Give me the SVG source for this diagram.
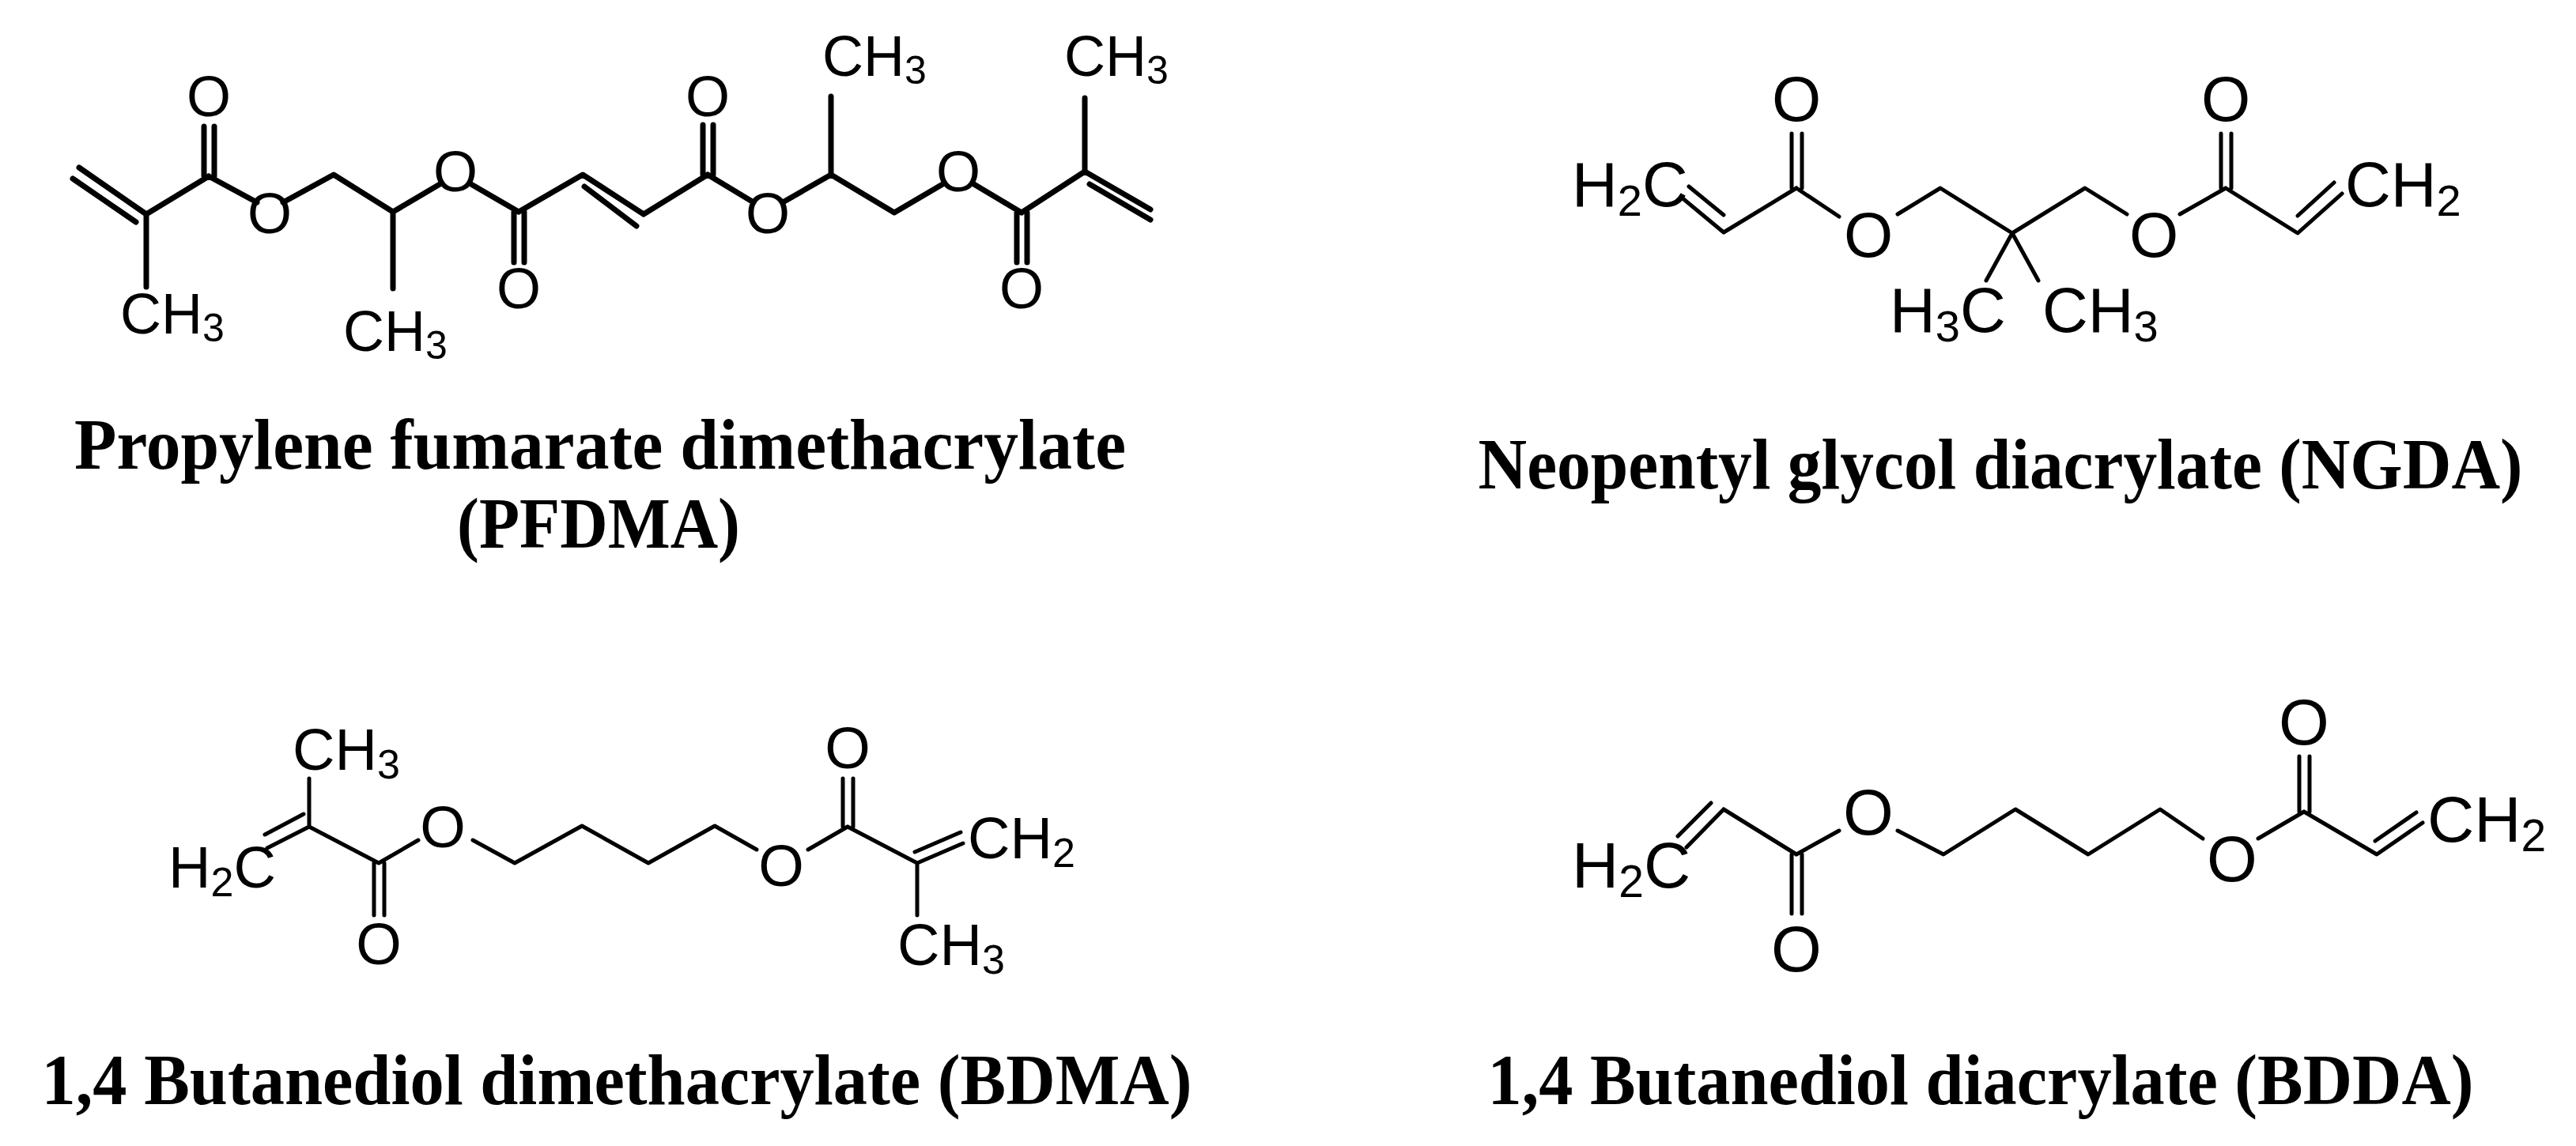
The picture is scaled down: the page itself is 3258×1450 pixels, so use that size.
<svg xmlns="http://www.w3.org/2000/svg" width="3258" height="1450" viewBox="0 0 3258 1450">
<style>
.b{stroke:#000;fill:none;stroke-linecap:round;stroke-linejoin:round}
.t1 .b{stroke-width:7}
.t2 .b{stroke-width:5}
.a{font-family:"Liberation Sans",Arial,sans-serif;fill:#000}
.o{text-anchor:middle;dominant-baseline:central}
.lab{font-family:"Liberation Serif","Times New Roman",serif;font-weight:bold;fill:#000;font-size:92px}
</style>
<rect width="3258" height="1450" fill="#fff"/>
<g id="pfdma" class="t1">
<g id="pfdma-bonds">
<path class="b" d="M100,212 L185,271 M92,226 L172,281 M185,271 L185,363 M185,271 L264,223 M258,223 L258,160 M271,223 L271,160 M264,223 L325,256 M358,256 L422,221 L497,268 L497,365 M497,268 L558,232 M594,232 L656,268 M650,268 L650,332 M663,268 L663,332 M656,268 L737,221 L814,271 M739,236 L805,286 M814,271 L895,221 M889,221 L889,158 M902,221 L902,158 M895,221 L953,256 M990,256 L1051,221 L1051,122 M1051,221 L1131,269 L1194,232 M1230,232 L1292,269 M1286,269 L1286,332 M1299,269 L1299,332 M1292,269 L1372,217 L1372,124 M1372,217 L1455,265 M1378,233 L1455,278"/>
</g>
<g class="a" font-size="72">
<text class="o" x="264" y="122">O</text>
<text class="o" x="341" y="270">O</text>
<text class="o" x="576" y="217">O</text>
<text class="o" x="656" y="365">O</text>
<text class="o" x="895" y="122">O</text>
<text class="o" x="971" y="270">O</text>
<text class="o" x="1212" y="217">O</text>
<text class="o" x="1292" y="365">O</text>
<text x="152" y="422">CH<tspan font-size="50" dy="10">3</tspan></text>
<text x="434" y="444">CH<tspan font-size="50" dy="10">3</tspan></text>
<text x="1040" y="96">CH<tspan font-size="50" dy="10">3</tspan></text>
<text x="1346" y="96">CH<tspan font-size="50" dy="10">3</tspan></text>
</g>
<text class="lab" x="759" y="593" text-anchor="middle" textLength="1330" lengthAdjust="spacingAndGlyphs">Propylene fumarate dimethacrylate</text>
<text class="lab" x="757" y="693" text-anchor="middle" textLength="358" lengthAdjust="spacingAndGlyphs">(PFDMA)</text>
</g>
<g id="ngda" class="t2">
<g id="ngda-bonds">
<path class="b" d="M2127,250 L2180,294 M2136,236 L2180,272 M2180,294 L2272,238 M2266,238 L2266,169 M2279,238 L2279,169 M2272,238 L2326,274 M2400,271 L2454,238 L2545,295 L2637,238 L2690,271 M2757,271 L2815,238 M2809,238 L2809,169 M2822,238 L2822,169 M2815,238 L2906,295 L2962,245 M2906,273 L2952,231 M2545,295 L2512,355 M2545,295 L2578,355"/>
</g>
<g class="a" font-size="80">
<text x="1988" y="261">H<tspan font-size="56" dy="12">2</tspan><tspan dy="-12">C</tspan></text>
<text class="o" x="2272" y="125">O</text>
<text class="o" x="2363" y="297">O</text>
<text class="o" x="2724" y="297">O</text>
<text class="o" x="2815" y="125">O</text>
<text x="2966" y="261">CH<tspan font-size="56" dy="12">2</tspan></text>
<text x="2390" y="420">H<tspan font-size="56" dy="12">3</tspan><tspan dy="-12">C</tspan></text>
<text x="2583" y="420">CH<tspan font-size="56" dy="12">3</tspan></text>
</g>
<text class="lab" x="2530" y="618" text-anchor="middle" textLength="1321" lengthAdjust="spacingAndGlyphs">Neopentyl glycol diacrylate (NGDA)</text>
</g>
<g id="bdma" class="t2">
<g id="bdma-bonds">
<path class="b" d="M391,985 L391,1046 L338,1073 M384,1030 L335,1056 M391,1046 L479,1092 M473,1092 L473,1158 M486,1092 L486,1158 M479,1092 L529,1063 M598,1063 L651,1092 L736,1045 L820,1092 L904,1045 L957,1075 M1022,1075 L1072,1046 M1066,1046 L1066,985 M1079,1046 L1079,985 M1072,1046 L1160,1092 L1218,1067 M1157,1078 L1215,1053 M1160,1092 L1160,1158"/>
</g>
<g class="a" font-size="74">
<text x="370" y="974">CH<tspan font-size="52" dy="11">3</tspan></text>
<text x="213" y="1123">H<tspan font-size="52" dy="11">2</tspan><tspan dy="-11">C</tspan></text>
<text class="o" x="479" y="1194">O</text>
<text class="o" x="560" y="1046">O</text>
<text class="o" x="988" y="1095">O</text>
<text class="o" x="1072" y="946">O</text>
<text x="1224" y="1086">CH<tspan font-size="52" dy="11">2</tspan></text>
<text x="1135" y="1221">CH<tspan font-size="52" dy="11">3</tspan></text>
</g>
<text class="lab" x="780" y="1397" text-anchor="middle" textLength="1455" lengthAdjust="spacingAndGlyphs">1,4 Butanediol dimethacrylate (BDMA)</text>
</g>
<g id="bdda" class="t2">
<g id="bdda-bonds">
<path class="b" d="M2133,1072 L2180,1024 M2122,1058 L2164,1016 M2180,1024 L2272,1081 M2266,1081 L2266,1156 M2279,1081 L2279,1156 M2272,1081 L2326,1051 M2400,1051 L2458,1081 L2549,1024 L2641,1081 L2732,1024 L2786,1061 M2856,1061 L2914,1027 M2908,1027 L2908,957 M2921,1027 L2921,957 M2914,1027 L3006,1081 L3064,1041 M3004,1064 L3056,1028"/>
</g>
<g class="a" font-size="82">
<text x="1988" y="1123">H<tspan font-size="57" dy="12">2</tspan><tspan dy="-12">C</tspan></text>
<text class="o" x="2272" y="1200">O</text>
<text class="o" x="2363" y="1027">O</text>
<text class="o" x="2823" y="1086">O</text>
<text class="o" x="2914" y="913">O</text>
<text x="3070" y="1065">CH<tspan font-size="57" dy="12">2</tspan></text>
</g>
<text class="lab" x="2505" y="1397" text-anchor="middle" textLength="1247" lengthAdjust="spacingAndGlyphs">1,4 Butanediol diacrylate (BDDA)</text>
</g>
</svg>
